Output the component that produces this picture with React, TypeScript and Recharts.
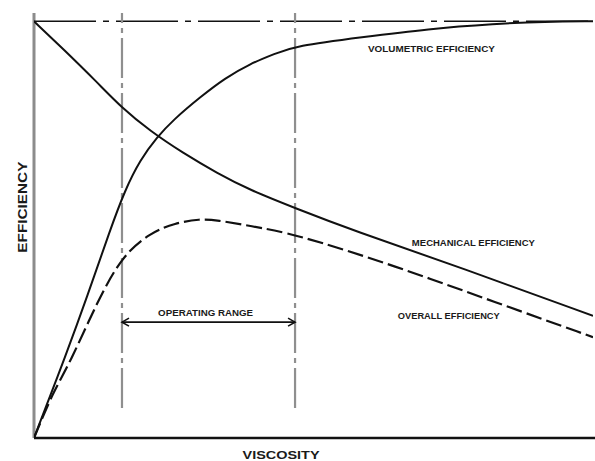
import React from 'react';
import { LineChart, Line, XAxis, YAxis, ReferenceLine, ReferenceDot } from 'recharts';

// Viscosity (0..100, arbitrary units) and efficiency (%)
const volumetricX = [0, 5.9, 9.48, 13.6, 16.28, 18.96, 22.0, 24.87, 29.7, 34.2, 38.6, 43.1, 46.7, 58.7, 70.5, 82.5, 91.4, 100];
const volumetricY = [0, 20.6, 33.8, 49.9, 59.5, 66.7, 72.2, 76.3, 81.8, 86.4, 89.8, 92.2, 94.1, 96.2, 98.2, 99.4, 99.95, 100];

const mechanicalX = [0, 5.19, 11.27, 15.74, 20.75, 26.65, 32.74, 38.64, 46.69, 56.89, 76.57, 100];
const mechanicalY = [100, 93.4, 85.4, 79.2, 73.7, 68.4, 63.6, 59.5, 55.2, 49.9, 40.8, 29.3];

const overallX = [0, 3.4, 6.44, 11.27, 15.74, 20.75, 25.22, 29.7, 32.7, 38.6, 46.7, 64.6, 82.5, 100];
const overallY = [0, 11.04, 18.0, 32.6, 43.7, 49.2, 51.6, 52.6, 52.3, 50.9, 49.0, 41.3, 32.6, 24.2];

const rangeStart = 15.74;
const rangeEnd = 46.7;
const rangeBottom = 7.2;
const rangeTop = 102;
const arrowLevel = 27.8;
const fullEfficiency = 100;

const labelTexts = ['VOLUMETRIC EFFICIENCY', 'MECHANICAL EFFICIENCY', 'OVERALL EFFICIENCY', 'OPERATING RANGE'];
const labelX = [71.1, 78.6, 74.2, 30.7];
const labelY = [93.6, 47.0, 29.5, 30.2];
const labelWidths = [127, 123, 102, 95];

const axisTitleX = 'VISCOSITY';
const axisTitleY = 'EFFICIENCY';

const zip = (xs: number[], ys: number[]) => xs.map((x, i) => ({ x, y: ys[i] }));
const volumetric = zip(volumetricX, volumetricY);
const mechanical = zip(mechanicalX, mechanicalY);
const overall = zip(overallX, overallY);

const FONT = '"Liberation Sans", Arial, sans-serif';

const makeLabel = (text: string, width: number, size: number, rotate = false) => (props: any) => {
  const vb = props.viewBox || {};
  const cx = (vb.x ?? vb.cx ?? 0) + (vb.width || 0) / 2;
  const cy = (vb.y ?? vb.cy ?? 0) + (vb.height || 0) / 2;
  return (
    <text
      x={cx}
      y={cy}
      textAnchor="middle"
      dominantBaseline="central"
      fontFamily={FONT}
      fontWeight="bold"
      fontSize={size}
      fill="#1a1a1a"
      textLength={width}
      lengthAdjust="spacingAndGlyphs"
      transform={rotate ? `rotate(-90 ${cx} ${cy})` : undefined}
    >
      {text}
    </text>
  );
};

const ArrowShape = (props: any) => {
  const { x1, y1, x2, y2 } = props;
  const a = 7;
  const b = 4;
  return (
    <g stroke="#111" strokeWidth={1.6} fill="none">
      <line x1={x1} y1={y1} x2={x2} y2={y2} />
      <polyline points={`${x1 + a},${y1 - b} ${x1},${y1} ${x1 + a},${y1 + b}`} />
      <polyline points={`${x2 - a},${y2 - b} ${x2},${y2} ${x2 - a},${y2 + b}`} />
    </g>
  );
};

export default function App() {
  return (
    <div style={{ position: 'absolute', left: 0, top: 0, width: 595, height: 461, background: '#fff' }}>
      <LineChart width={595} height={461} margin={{ top: 13, left: 34, right: 2, bottom: 23 }}>
        <XAxis type="number" dataKey="x" domain={[0, 100]} hide allowDataOverflow />
        <YAxis type="number" dataKey="y" domain={[0, 102]} hide allowDataOverflow />
        {/* axes */}
        <ReferenceLine
          segment={[{ x: 0, y: 0 }, { x: 0, y: rangeTop }]}
          stroke="#8c8c8c"
          strokeWidth={3}
          ifOverflow="visible"
        />
        <ReferenceLine
          segment={[{ x: 0, y: 0 }, { x: 100.4, y: 0 }]}
          stroke="#111"
          strokeWidth={2.5}
          ifOverflow="visible"
        />
        <ReferenceLine
          y={fullEfficiency}
          stroke="#111"
          strokeWidth={1.5}
          strokeDasharray="62 7 6 7"
          ifOverflow="visible"
        />
        <ReferenceLine
          segment={[{ x: rangeStart, y: rangeBottom }, { x: rangeStart, y: rangeTop }]}
          stroke="#8f8f8f"
          strokeWidth={2.2}
          strokeDasharray="40 5 5 5"
          ifOverflow="visible"
        />
        <ReferenceLine
          segment={[{ x: rangeEnd, y: rangeBottom }, { x: rangeEnd, y: rangeTop }]}
          stroke="#8f8f8f"
          strokeWidth={2.2}
          strokeDasharray="40 5 5 5"
          ifOverflow="visible"
        />
        <ReferenceLine
          segment={[{ x: rangeStart, y: arrowLevel }, { x: rangeEnd, y: arrowLevel }]}
          shape={ArrowShape}
          ifOverflow="visible"
        />
        <Line data={volumetric} dataKey="y" type="basis" stroke="#111" strokeWidth={2} dot={false} isAnimationActive={false} />
        <Line data={mechanical} dataKey="y" type="basis" stroke="#111" strokeWidth={2} dot={false} isAnimationActive={false} />
        <Line data={overall} dataKey="y" type="basis" stroke="#111" strokeWidth={2.2} strokeDasharray="16 5" dot={false} isAnimationActive={false} />
        {labelTexts.map((t, i) => (
          <ReferenceDot
            key={t}
            x={labelX[i]}
            y={labelY[i]}
            r={0}
            fill="none"
            stroke="none"
            ifOverflow="visible"
            label={{ content: makeLabel(t, labelWidths[i], 9.5) }}
          />
        ))}
        <ReferenceDot x={-1.97} y={55.4} r={0} fill="none" stroke="none" ifOverflow="visible"
          label={{ content: makeLabel(axisTitleY, 91, 12, true) }} />
        <ReferenceDot x={44.2} y={-4.1} r={0} fill="none" stroke="none" ifOverflow="visible"
          label={{ content: makeLabel(axisTitleX, 77, 11.5) }} />
      </LineChart>
    </div>
  );
}
